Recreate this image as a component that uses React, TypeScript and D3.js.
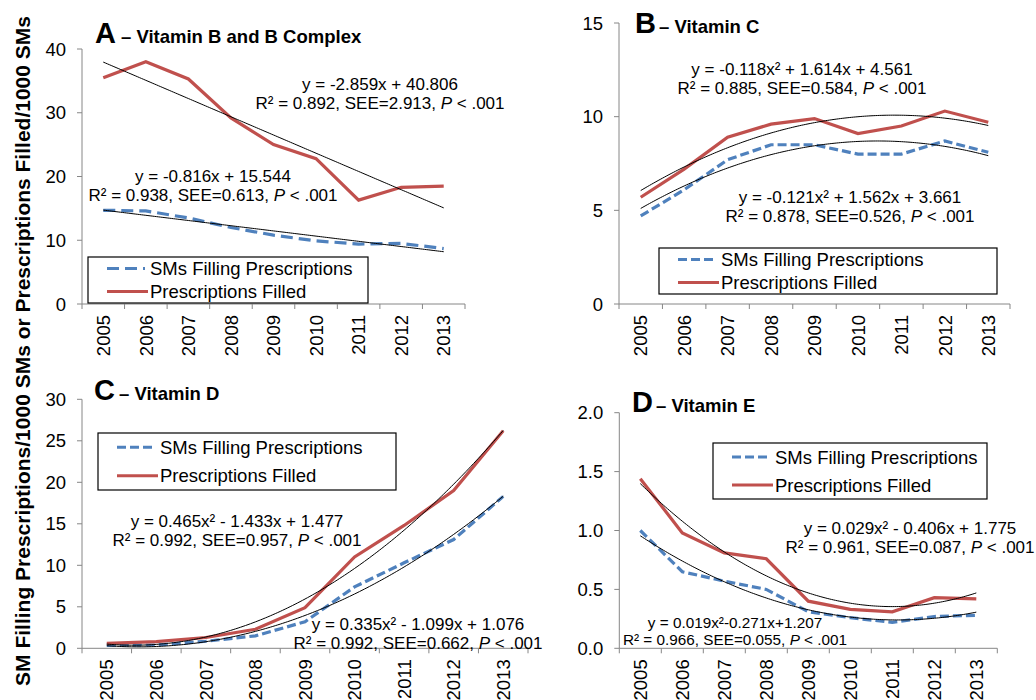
import * as d3 from 'd3';
import React from 'react';

// survey years on the category axis
const years = ['2005', '2006', '2007', '2008', '2009', '2010', '2011', '2012', '2013'];

// A - Vitamin B and B complex
const vitBSms = [14.7, 14.6, 13.5, 12.0, 10.8, 9.9, 9.4, 9.5, 8.7];
const vitBRx = [35.5, 38.0, 35.3, 29.2, 25.0, 22.8, 16.3, 18.3, 18.5];
// B - Vitamin C
const vitCSms = [4.7, 6.1, 7.7, 8.5, 8.5, 8.0, 8.0, 8.7, 8.1];
const vitCRx = [5.7, 7.2, 8.9, 9.6, 9.9, 9.1, 9.5, 10.3, 9.7];
// C - Vitamin D
const vitDSms = [0.35, 0.4, 0.85, 1.5, 3.2, 7.4, 10.3, 13.1, 18.3];
const vitDRx = [0.6, 0.8, 1.3, 2.3, 4.9, 11.0, 14.8, 19.0, 26.2];
// D - Vitamin E
const vitESms = [1.0, 0.65, 0.57, 0.5, 0.31, 0.26, 0.22, 0.27, 0.28];
const vitERx = [1.44, 0.98, 0.81, 0.76, 0.4, 0.33, 0.31, 0.43, 0.42];

// trendline coefficients [a, b, c] for a*x^2 + b*x + c, x = 1..9
const trendBSms = [0, -0.816, 15.544];
const trendBRx = [0, -2.859, 40.806];
const trendCSms = [-0.121, 1.562, 3.661];
const trendCRx = [-0.118, 1.614, 4.561];
const trendDSms = [0.335, -1.099, 1.076];
const trendDRx = [0.465, -1.433, 1.477];
const trendESms = [0.019, -0.271, 1.207];
const trendERx = [0.029, -0.406, 1.775];

const ticksB = [0, 10, 20, 30, 40];
const ticksC = [0, 5, 10, 15];
const ticksD = [0, 5, 10, 15, 20, 25, 30];
const ticksE = [0, 0.5, 1.0, 1.5, 2.0];

const legendLabels = ['SMs Filling Prescriptions', 'Prescriptions Filled'];
const yTitle = 'SM Filling Prescriptions/1000 SMs or Prescriptions Filled/1000 SMs';

const FONT = '"Liberation Sans", Arial, Helvetica, sans-serif';
const RED = '#C0504D';
const BLUE = '#4F81BD';
const AXIS = '#868686';

const panels = [
  {
    letter: 'A', sub: '– Vitamin B and B Complex', tx: 95, ty: 43, sx: 121,
    x0: 82, x1: 465, y0: 304, yTop: 49, yMax: 40, ticks: ticksB, fmt: d3.format('d'),
    sms: vitBSms, rx: vitBRx, tSms: trendBSms, tRx: trendBRx, dash: '12,6',
    legend: { x: 88, y: 257, w: 280, h: 46 },
    notes: [
      { cx: 380, y: 90, size: 17, eq: 'y = -2.859x + 40.806', stat: 'R² = 0.892, SEE=2.913, ' },
      { cx: 213, y: 181.5, size: 17, eq: 'y = -0.816x + 15.544', stat: 'R² = 0.938, SEE=0.613, ' },
    ],
  },
  {
    letter: 'B', sub: '– Vitamin C', tx: 635, ty: 33, sx: 659,
    x0: 619, x1: 1010, y0: 304, yTop: 23, yMax: 15, ticks: ticksC, fmt: d3.format('d'),
    sms: vitCSms, rx: vitCRx, tSms: trendCSms, tRx: trendCRx, dash: '9,4',
    legend: { x: 659, y: 248, w: 338, h: 46 },
    notes: [
      { cx: 802, y: 75, size: 17, eq: 'y = -0.118x² + 1.614x + 4.561', stat: 'R² = 0.885, SEE=0.584, ' },
      { cx: 850, y: 203, size: 17, eq: 'y = -0.121x² + 1.562x + 3.661', stat: 'R² = 0.878, SEE=0.526, ' },
    ],
  },
  {
    letter: 'C', sub: '– Vitamin D', tx: 94, ty: 400, sx: 119,
    x0: 82, x1: 528, y0: 648.3, yTop: 399.3, yMax: 30, ticks: ticksD, fmt: d3.format('d'),
    sms: vitDSms, rx: vitDRx, tSms: trendDSms, tRx: trendDRx, dash: '9,4',
    legend: { x: 98, y: 433, w: 298, h: 57 },
    notes: [
      { cx: 237, y: 527, size: 17, eq: 'y = 0.465x² - 1.433x + 1.477', stat: 'R² = 0.992, SEE=0.957, ' },
      { cx: 418, y: 629.5, size: 17, eq: 'y = 0.335x² - 1.099x + 1.076', stat: 'R² = 0.992, SEE=0.662, ' },
    ],
  },
  {
    letter: 'D', sub: '– Vitamin E', tx: 632, ty: 411.5, sx: 656,
    x0: 619.3, x1: 997.3, y0: 648.3, yTop: 412.7, yMax: 2, ticks: ticksE, fmt: d3.format('.1f'),
    sms: vitESms, rx: vitERx, tSms: trendESms, tRx: trendERx, dash: '9,4',
    legend: { x: 713, y: 443, w: 274, h: 56 },
    notes: [
      { cx: 910, y: 533.5, size: 17, eq: 'y = 0.029x² - 0.406x + 1.775', stat: 'R² = 0.961, SEE=0.087, ' },
      { cx: 735, y: 628, size: 15.3, eq: 'y = 0.019x²-0.271x+1.207', stat: 'R² = 0.966, SEE=0.055, ' },
    ],
  },
];

function Panel({ p }: { p: any }) {
  const x = d3.scaleBand<string>().domain(years).range([p.x0, p.x1]);
  const y = d3.scaleLinear().domain([0, p.yMax]).range([p.y0, p.yTop]);
  const cx = (yr: string) => (x(yr) as number) + x.bandwidth() / 2;
  const series = d3.line<number>().x((d, i) => cx(years[i])).y((d) => y(d));
  const xi = d3.scaleLinear().domain([1, years.length]).range([cx(years[0]), cx(years[years.length - 1])]);
  const trend = (c: number[]) =>
    d3.line<number>().x((t) => xi(t)).y((t) => y(c[0] * t * t + c[1] * t + c[2]))(d3.range(1, years.length + 0.001, 0.05));
  const bounds = years.map((yr) => x(yr) as number).concat([p.x1]);
  const lg = p.legend;
  const rowY = [lg.y + lg.h * 0.25, lg.y + lg.h * 0.75];

  return (
    <g fontFamily={FONT}>
      {/* title */}
      <text x={p.tx} y={p.ty} fontSize={29} fontWeight="bold">{p.letter}</text>
      <text x={p.sx} y={p.ty} fontSize={18.5} fontWeight="bold">{p.sub}</text>

      {/* axes */}
      <line x1={p.x0} x2={p.x0} y1={p.yTop} y2={p.y0} stroke={AXIS} />
      <line x1={p.x0} x2={p.x1} y1={p.y0} y2={p.y0} stroke={AXIS} />
      {p.ticks.map((t: number) => (
        <g key={'y' + t}>
          <line x1={p.x0 - 5} x2={p.x0} y1={y(t)} y2={y(t)} stroke={AXIS} />
          <text x={p.x0 - 16} y={y(t)} dy="0.36em" textAnchor="end" fontSize={18.5}>{p.fmt(t)}</text>
        </g>
      ))}
      {bounds.map((b: number, i: number) => (
        <line key={'xt' + i} x1={b} x2={b} y1={p.y0} y2={p.y0 + 5} stroke={AXIS} />
      ))}
      {years.map((yr) => (
        <text key={yr} transform={`translate(${cx(yr)},${p.y0 + 11}) rotate(-90)`} dy="0.36em"
          textAnchor="end" fontSize={18.5}>{yr}</text>
      ))}

      {/* series */}
      <path d={series(p.sms) as string} fill="none" stroke={BLUE} strokeWidth={3.2} strokeDasharray={p.dash} />
      <path d={series(p.rx) as string} fill="none" stroke={RED} strokeWidth={3.2} />
      <path d={trend(p.tSms) as string} fill="none" stroke="#000" strokeWidth={1} />
      <path d={trend(p.tRx) as string} fill="none" stroke="#000" strokeWidth={1} />

      {/* legend */}
      <rect x={lg.x} y={lg.y} width={lg.w} height={lg.h} fill="#fff" stroke="#000" strokeWidth={1.2} />
      <line x1={lg.x + 19} x2={lg.x + 57} y1={rowY[0]} y2={rowY[0]} stroke={BLUE} strokeWidth={3.2} strokeDasharray={p.dash} />
      <line x1={lg.x + 19} x2={lg.x + 60} y1={rowY[1]} y2={rowY[1]} stroke={RED} strokeWidth={3.2} />
      {legendLabels.map((l, i) => (
        <text key={l} x={lg.x + 62} y={rowY[i]} dy="0.36em" fontSize={18.5}>{l}</text>
      ))}

      {/* regression notes */}
      {p.notes.map((n: any, i: number) => (
        <text key={'n' + i} x={n.cx} textAnchor="middle" fontSize={n.size}>
          <tspan x={n.cx} y={n.y}>{n.eq}</tspan>
          <tspan x={n.cx} y={n.y + n.size * 1.14}>
            {n.stat}
            <tspan fontStyle="italic">P</tspan>
            {' < .001'}
          </tspan>
        </text>
      ))}
    </g>
  );
}

export default function App() {
  return (
    <svg width={1036} height={700} style={{ position: 'absolute', left: 0, top: 0, background: '#fff' }}>
      <rect width={1036} height={700} fill="#fff" />
      <text transform="translate(23,351) rotate(-90)" textAnchor="middle" dy="0.35em"
        fontFamily={FONT} fontWeight="bold" fontSize={21}>{yTitle}</text>
      {panels.map((p) => (
        <Panel key={p.letter} p={p} />
      ))}
    </svg>
  );
}
